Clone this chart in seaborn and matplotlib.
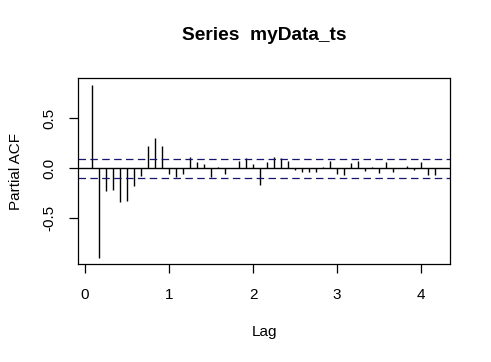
import numpy as np
import matplotlib
matplotlib.use("Agg")
import matplotlib.pyplot as plt
import seaborn as sns

# monthly series, lags 1..50 shown in years
freq = 12
lag_index = list(range(1, 51))
pacf_vals = [
    0.833, -0.900, -0.227, -0.217, -0.340, -0.327, -0.177, -0.077, 0.220, 0.300,
    0.220, -0.055, -0.087, -0.055, 0.110, 0.060, 0.040, -0.087, 0.010, -0.063,
    0.005, 0.073, 0.097, 0.040, -0.170, 0.060, 0.107, 0.097, 0.073, -0.020,
    -0.043, -0.040, -0.037, 0.013, 0.068, -0.054, -0.066, 0.047, 0.070, -0.026,
    0.013, -0.045, 0.060, -0.035, 0.003, 0.022, -0.020, 0.060, -0.066, -0.065,
]
conf_bound = 0.095
xticks = [0, 1, 2, 3, 4]
yticks = [-0.5, 0.0, 0.5]

sns.set_theme(style="white")
plt.rcParams['font.family'] = ['Liberation Sans', 'DejaVu Sans']

lags = np.array(lag_index) / freq

fig = plt.figure(figsize=(4.91, 3.62), dpi=100)
ax = fig.add_axes([0.159, 0.271, 0.7575, 0.513])

ax.vlines(lags, 0, pacf_vals, color="black", lw=1.0)
ax.axhline(0, color="black", lw=1.0)
for b in (conf_bound, -conf_bound):
    ax.axhline(b, color="#16166e", lw=0.9, ls=(0, (6, 3.5)))

ax.set_xlim(-0.083, 4.342)
ax.set_ylim(-0.957, 0.90)
ax.set_xticks(xticks)
ax.set_yticks(yticks)
ax.set_xticklabels([str(t) for t in xticks])
ax.set_yticklabels(["-0.5", "0.0", "0.5"], rotation=90, va="center")

for s in ax.spines.values():
    s.set_visible(True)
    s.set_color("black")
    s.set_linewidth(0.9)

ax.tick_params(axis="both", direction="out", length=6.5, width=0.9,
               color="black", labelsize=11, labelcolor="black",
               bottom=True, left=True)
ax.tick_params(axis="x", pad=10.5)
ax.tick_params(axis="y", pad=9)

ax.set_xlabel("Lag", fontsize=11, color="black")
ax.set_ylabel("Partial ACF", fontsize=11, color="black")
ax.xaxis.set_label_coords(0.5, -0.366)
ax.xaxis.label.set_va("center")
ax.yaxis.set_label_coords(-0.168, 0.5)
ax.yaxis.label.set_va("center")

ax.set_title("Series  myData_ts", fontsize=13.8, fontweight="bold",
             color="black", y=1.23, va="center", pad=0)

fig.savefig("out.png", dpi=100, facecolor="white")
